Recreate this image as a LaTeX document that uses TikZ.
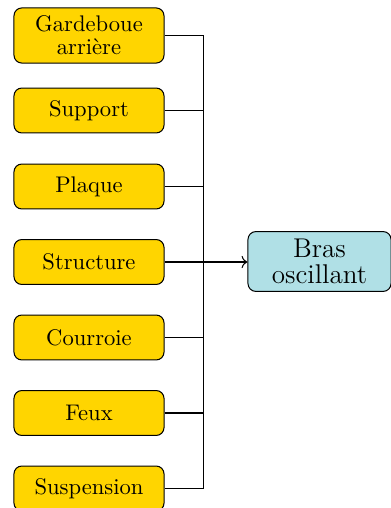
\documentclass[tikz,border=0pt]{standalone}
\usetikzlibrary{arrows.meta}
\definecolor{partfill}{RGB}{255,213,0}
\definecolor{mainfill}{RGB}{176,224,230}
\begin{document}
\begin{tikzpicture}[x=0.4425pt,y=-0.4425pt,
  part/.style={draw, rounded corners=3.5pt, fill=partfill, line width=0.45pt,
    minimum width=66.4pt, minimum height=19.9pt, inner sep=2.2pt,
    align=center, font=\normalsize},
  main/.style={draw, rounded corners=3.5pt, fill=mainfill, line width=0.45pt,
    minimum width=63.3pt, minimum height=26.5pt, inner sep=2pt,
    align=center, font=\large},
  wire/.style={line width=0.45pt}]
\useasboundingbox (0,0) rectangle (391,508);
% component boxes
\node[part, minimum height=24.4pt] (gar) at (89,35.5) {Gardeboue\\[-1.7pt]arrière};
\node[part] (sup) at (89,110.5) {Support};
\node[part] (pla) at (89,186.5) {Plaque};
\node[part] (str) at (89,262)   {Structure};
\node[part] (cou) at (89,337.5) {Courroie};
\node[part] (feu) at (89,413)   {Feux};
\node[part] (sus) at (89,488.5) {Suspension};
% target box
\node[main] (bra) at (319.5,261.5) {Bras\\[-2.4pt]oscillant};
% collecting bus
\coordinate (bt) at (203.3,35.5);
\coordinate (bb) at (203.3,488.5);
\draw[wire] (gar.east) -- (bt) -- (bb) -- (sus.east);
\foreach \n in {sup,pla,cou,feu}
  \draw[wire] (\n.east) -- (\n.east -| bt);
\draw[wire,->] (str.east) -- (str.east -| bra.west);
\end{tikzpicture}
\end{document}
